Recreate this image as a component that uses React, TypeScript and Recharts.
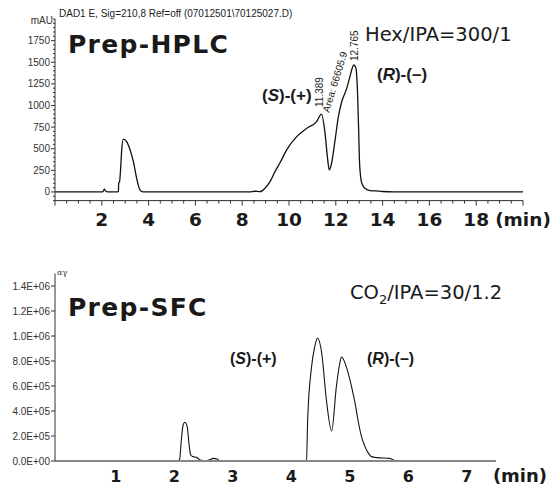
import React from "react";
import { Line, LineChart, XAxis, YAxis } from "recharts";

// Prep-HPLC trace (min, mAU)
const hplcTime = [
  0, 2.0, 2.06, 2.11, 2.17, 2.25, 2.68, 2.71, 2.72, 2.76, 2.81, 2.85, 2.92, 3.06, 3.21, 3.35, 3.49, 3.6, 3.71,
  3.85, 5, 7, 8.3, 8.55, 8.76, 8.97, 9.19, 9.4, 9.62, 9.9, 10.33, 10.76, 11.18, 11.389, 11.54, 11.64, 11.72,
  11.82, 11.97, 12.11, 12.25, 12.47, 12.61, 12.7, 12.765, 12.86, 12.93, 12.98, 13.01, 13.06, 13.12, 13.25,
  13.46, 13.7, 14.0, 14.5, 16, 18, 20,
];
const hplcAbs = [
  0, 0, 8, 31, 8, 2, 2, 5, 100, 120, 293, 486, 610, 582, 486, 351, 158, 42, 5,
  0, 0, 0, 0, 8, 3, 42, 119, 235, 340, 486, 640, 737, 813, 900, 679, 408, 255,
  332, 602, 871, 1040, 1200, 1340, 1430, 1469, 1431, 1142, 679, 370, 177, 95, 42,
  15, 12, 5, 2, 0, 0, 0,
];

// Prep-SFC trace (min, counts)
const sfcTime = [
  0, 2.05, 2.09, 2.12, 2.15, 2.18, 2.22, 2.25, 2.28, 2.32, 2.38, 2.44, 2.55, 2.62, 2.66, 2.73, 2.78, 3.5,
  4.22, 4.26, 4.28, 4.34, 4.4, 4.45, 4.52, 4.6, 4.69, 4.77, 4.83, 4.86, 4.94, 5.03, 5.09, 5.14, 5.2, 5.26,
  5.32, 5.37, 5.46, 5.68, 5.8, 6.5, 7.5,
];
const sfcSignal = [
  0, 0, 10000, 168000, 288000, 310000, 275000, 141000, 48000, 35000, 29000, 8000, 3000, 12000, 21000, 16000, 0, 0,
  0, 8000, 328000, 728000, 912000, 984000, 864000, 488000, 240000, 592000, 784000, 832000, 755000, 595000, 464000,
  328000, 195000, 115000, 61000, 35000, 27000, 21000, 0, 0, 0,
];

const hplcYLabels = [0, 250, 500, 750, 1000, 1250, 1500, 1750];
const hplcXLabels = [2, 4, 6, 8, 10, 12, 14, 16, 18];
const sfcYLabels = [0, 200000, 400000, 600000, 800000, 1000000, 1200000, 1400000];
const sfcXLabels = [1, 2, 3, 4, 5, 6, 7];

const hplcData = hplcTime.map((t, i) => ({ t, v: hplcAbs[i] }));
const sfcData = sfcTime.map((t, i) => ({ t, v: sfcSignal[i] }));

const hplcYTicks: number[] = [];
for (let v = -100; v <= 2000; v += 50) hplcYTicks.push(v);
const hplcXTicks: number[] = [];
for (let t = 0; t <= 20; t += 0.5) hplcXTicks.push(t);

const ARIAL = "Liberation Sans, Arial, sans-serif";
const VERDANA = "DejaVu Sans, Verdana, sans-serif";
const INK = "#1a1a1a";

function sci(v: number) {
  if (v === 0) return "0.0E+00";
  const e = Math.floor(Math.log10(v));
  const m = v / Math.pow(10, e);
  return `${m.toFixed(1)}E+${String(e).padStart(2, "0")}`;
}

function HplcYTick(props: any) {
  const { x, y, payload } = props;
  const v = payload.value;
  const major = hplcYLabels.includes(v);
  return (
    <g>
      <line x1={x - (major ? 4 : 2)} x2={x} y1={y} y2={y} stroke="#333" />
      {major && (
        <text x={x - 5} y={y + 3.5} textAnchor="end" fontSize={10} fontFamily={ARIAL} fill="#333">
          {v}
        </text>
      )}
    </g>
  );
}

function HplcXTick(props: any) {
  const { x, y, payload } = props;
  const v = payload.value;
  const major = v % 2 === 0;
  const label = hplcXLabels.includes(v) ? String(v) : v === 20 ? "(min)" : null;
  return (
    <g>
      <line x1={x} x2={x} y1={y} y2={y + (major ? 5 : 3)} stroke="#333" />
      {label && (
        <text x={x} y={y + 25.5} textAnchor="middle" fontSize={18.5} fontWeight="bold" fontFamily={VERDANA} fill={INK}>
          {label}
        </text>
      )}
    </g>
  );
}

function SfcYTick(props: any) {
  const { x, y, payload } = props;
  return (
    <g>
      <line x1={x - 4} x2={x} y1={y} y2={y} stroke="#333" />
      <text x={x - 5} y={y + 3.5} textAnchor="end" fontSize={10} fontFamily={ARIAL} fill="#333">
        {sci(payload.value)}
      </text>
    </g>
  );
}

function SfcXTick(props: any) {
  const { x, y, payload } = props;
  return (
    <text x={x} y={y + 21} textAnchor="middle" fontSize={16} fontWeight="bold" fontFamily={VERDANA} fill={INK}>
      {payload.value}
    </text>
  );
}

function Enantiomer({ x, y, letter, sign, size }: { x: number; y: number; letter: string; sign: string; size: number }) {
  return (
    <text x={x} y={y} fontSize={size} fontWeight="bold" fontFamily={ARIAL} fill={INK}>
      (<tspan fontStyle="italic">{letter}</tspan>)-({sign})
    </text>
  );
}

export default function App() {
  return (
    <div style={{ position: "absolute", left: 0, top: 0, width: 556, height: 488, background: "#fff" }}>
      <div style={{ position: "absolute", left: 0, top: 0 }}>
        <LineChart width={556} height={230} data={hplcData} margin={{ top: 19, right: 33, bottom: 0, left: 0 }}>
          <XAxis
            type="number"
            dataKey="t"
            domain={[0, 20]}
            ticks={hplcXTicks}
            interval={0}
            tickSize={0}
            tickMargin={0}
            height={29.4}
            axisLine={{ stroke: "#333" }}
            tick={<HplcXTick />}
          />
          <YAxis
            type="number"
            domain={[-100, 2000]}
            ticks={hplcYTicks}
            interval={0}
            tickSize={0}
            tickMargin={0}
            width={55}
            axisLine={{ stroke: "#333" }}
            tick={<HplcYTick />}
          />
          <Line type="monotone" dataKey="v" stroke="#111" strokeWidth={1.3} dot={false} isAnimationActive={false} />
        </LineChart>
      </div>
      <div style={{ position: "absolute", left: 0, top: 240 }}>
        <LineChart width={556} height={248} data={sfcData} margin={{ top: 33.5, right: 60, bottom: 0, left: 0 }}>
          <XAxis
            type="number"
            dataKey="t"
            domain={[-0.04, 7.5]}
            ticks={sfcXLabels}
            interval={0}
            tickSize={0}
            tickMargin={0}
            height={27}
            axisLine={{ stroke: "#888", strokeWidth: 2 }}
            tick={<SfcXTick />}
          />
          <YAxis
            type="number"
            domain={[0, 1500000]}
            ticks={sfcYLabels}
            interval={0}
            tickSize={0}
            tickMargin={0}
            width={55}
            axisLine={{ stroke: "#333" }}
            tick={<SfcYTick />}
          />
          <Line type="monotone" dataKey="v" stroke="#111" strokeWidth={1.1} dot={false} isAnimationActive={false} />
        </LineChart>
      </div>
      <svg width={556} height={488} style={{ position: "absolute", left: 0, top: 0, pointerEvents: "none" }}>
        <text x={59} y={17} fontSize={10} fontFamily={ARIAL} fill="#222">
          {"DAD1 E, Sig=210,8 Ref=off (07012501\\70125027.D)"}
        </text>
        <text x={53} y={24} textAnchor="end" fontSize={10} fontFamily={ARIAL} fill="#333">
          mAU
        </text>
        <text x={68} y={53} fontSize={25} fontWeight="bold" fontFamily={VERDANA} fill={INK} letterSpacing={1.3}>
          Prep-HPLC
        </text>
        <text x={365} y={41} fontSize={19.5} fontFamily={VERDANA} fill={INK}>
          Hex/IPA=300/1
        </text>
        <Enantiomer x={262} y={101} letter="S" sign="+" size={17} />
        <Enantiomer x={377} y={80} letter="R" sign="–" size={17} />
        <text x={323} y={107} fontSize={10} fontFamily={ARIAL} fill="#222" transform="rotate(-90 323 107)">
          11.389
        </text>
        <text x={329} y={113} fontSize={10} fontFamily={ARIAL} fill="#222" transform="rotate(-73 329 113)">
          Area: 66605.9
        </text>
        <text x={358} y={61} fontSize={10} fontFamily={ARIAL} fill="#222" transform="rotate(-90 358 61)">
          12.765
        </text>

        <text x={57} y={275} fontSize={8} fontFamily="DejaVu Serif, serif" fill="#333">
          αγ
        </text>
        <text x={68} y={316} fontSize={25} fontWeight="bold" fontFamily={VERDANA} fill={INK} letterSpacing={1.3}>
          Prep-SFC
        </text>
        <text x={350} y={299} fontSize={19.5} fontFamily={VERDANA} fill={INK}>
          CO<tspan fontSize={13} dy={5}>2</tspan>
          <tspan dy={-5}>/IPA=30/1.2</tspan>
        </text>
        <Enantiomer x={230} y={364} letter="S" sign="+" size={16} />
        <Enantiomer x={367} y={364} letter="R" sign="–" size={16} />
        <text x={520} y={482} textAnchor="middle" fontSize={18} fontWeight="bold" fontFamily={VERDANA} fill={INK}>
          (min)
        </text>
      </svg>
    </div>
  );
}
